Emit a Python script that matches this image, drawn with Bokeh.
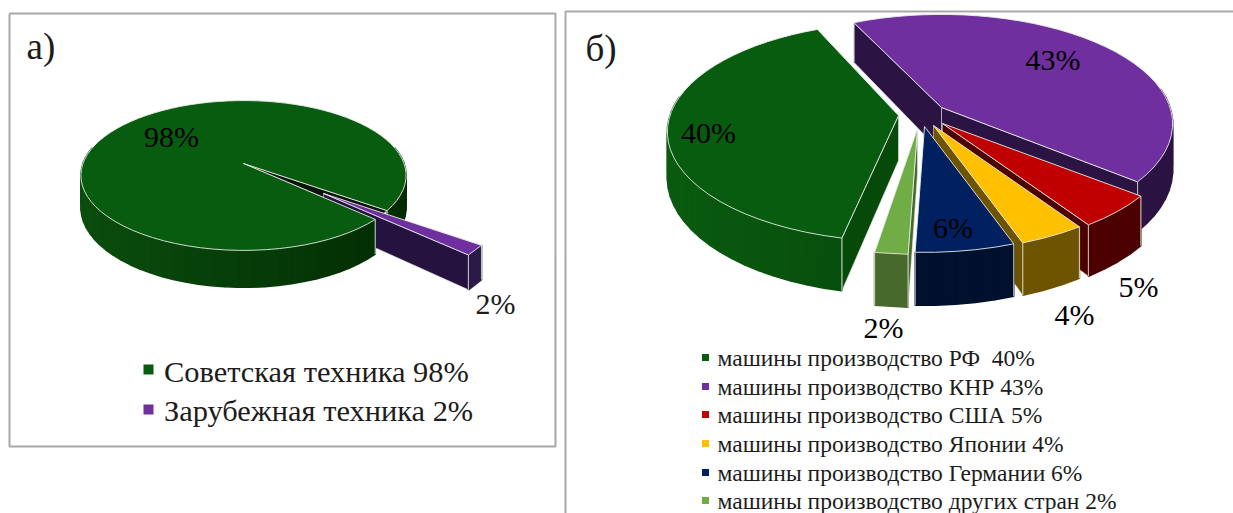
import math
from bokeh.models import ColumnDataSource
from bokeh.plotting import figure
from bokeh.core.properties import value
from bokeh.embed import file_html
from bokeh.resources import INLINE

# Fleet shares, percent
soviet_shares = [98, 2]
soviet_legend = ["Советская техника 98%", "Зарубежная техника 2%"]
origin_shares = [40, 43, 5, 4, 6, 2]
origin_legend = [
    "машины производство РФ\u00a0 40%",
    "машины производство КНР 43%",
    "машины производство США 5%",
    "машины производство Японии 4%",
    "машины производство Германии 6%",
    "машины производство других стран 2%",
]

FONT = value("Liberation Serif")
INK = "#1c1c1c"
EDGE = "#e6ece6"

p = figure(width=1233, height=513, x_range=(0, 1233), y_range=(513, 0),
           x_axis_type=None, y_axis_type=None, toolbar_location=None,
           output_backend="svg", min_border=0, outline_line_color=None,
           background_fill_color="white", border_fill_color="white")
p.grid.visible = False

polys = dict(xs=[], ys=[], fill=[], line=[], alpha=[], lw=[])


def add(xs, ys, fill, line=None, alpha=1.0, lw=1.6):
    polys["xs"].append(list(xs))
    polys["ys"].append(list(ys))
    polys["fill"].append(fill)
    polys["line"].append(line or fill)
    polys["alpha"].append(alpha if line else 1.0)
    polys["lw"].append(lw)


def mix(a, b, t):
    ca = [int(a[i:i + 2], 16) for i in (1, 3, 5)]
    cb = [int(b[i:i + 2], 16) for i in (1, 3, 5)]
    return "#%02x%02x%02x" % tuple(round(x + (y - x) * t) for x, y in zip(ca, cb))


class Tilted:
    """Perspective view of a flat disc; angles run clockwise from north, in degrees."""

    def __init__(self, rx, ry, k, depth):
        self.rx, self.ry, self.k, self.depth = rx, ry, k, depth

    def rim(self, apex, deg, r=1.0):
        t = math.radians(deg)
        u, v = math.sin(t), -math.cos(t)
        s = 1 / (1 - self.k * v)
        return (apex[0] + self.rx * u * s * r, apex[1] + self.ry * v * s * r, s)

    def drop(self, s):
        return self.depth * s

    def arc(self, apex, a0, a1, r=1.0):
        n = max(2, int(abs(a1 - a0) / 4) + 1)
        return [self.rim(apex, a0 + (a1 - a0) * i / (n - 1), r) for i in range(n)]

    def top(self, apex, a0, a1, color, r=1.0):
        pts = self.arc(apex, a0, a1, r)
        add([apex[0]] + [q[0] for q in pts], [apex[1]] + [q[1] for q in pts],
            color, EDGE, 0.9, 1.0)

    def wall(self, apex, a0, a1, left, right, r=1.0):
        """Outer rim band, shaded from left to right across the disc."""
        pts = self.arc(apex, a0, a1, r)
        for q0, q1 in zip(pts, pts[1:]):
            if (q0[1] + q1[1]) / 2 < apex[1] - 0.2 * self.ry:
                continue
            mid = ((q0[0] + q1[0]) / 2 - apex[0]) / (self.rx * 1.1 * r)
            c = mix(left, right, max(0, min(1, (mid + 1) / 2)))
            add([q0[0], q1[0], q1[0], q0[0]],
                [q0[1], q1[1], q1[1] + self.drop(q1[2]), q0[1] + self.drop(q0[2])], c)
        # bottom outline is left soft; only the closing verticals are lit
        for q in (pts[0], pts[-1]):
            add([q[0], q[0]], [q[1], q[1] + self.drop(q[2])], EDGE, EDGE, 0.7, 0.8)

    def face(self, apex, deg, color, r=1.0):
        """Straight cut face running from the apex to the rim."""
        q = self.rim(apex, deg, r)
        add([apex[0], q[0], q[0], apex[0]],
            [apex[1], q[1], q[1] + self.drop(q[2]), apex[1] + self.depth],
            color, EDGE, 0.7, 0.8)


def facing_viewer(deg, side):
    # side is -1 for the leading cut of a slice, +1 for the trailing one
    return -math.cos(math.radians(deg + side * 90)) > 0


# Left pie: domestic machinery against a pulled-out foreign sliver
GREEN, PURPLE = "#075c10", "#6f2f9f"
pie_a = Tilted(160.5, 73, 0.16, 31)
centre_a = (243, 163)
sliver_apex = (323, 193)
start_a = 133
soviet_end = start_a + soviet_shares[0] * 3.6
sliver_end = soviet_end + soviet_shares[1] * 3.6

# rim of the large slice behind the sliver
pie_a.wall(centre_a, 0, soviet_end - 360, "#0b4f0e", "#022a03")
q0, q1 = pie_a.rim(centre_a, soviet_end - 360), pie_a.rim(centre_a, start_a)
add([centre_a[0], q0[0], q1[0]], [centre_a[1], q0[1], q1[1]], "#0a140a", "#9aa39a", 0.9, 0.8)
# the sliver
pie_a.face(sliver_apex, sliver_end, "#26123f", 1.1)
pie_a.wall(sliver_apex, soviet_end, sliver_end, "#26123f", "#2c1a48", 1.1)
# near rim and top of the large slice
pie_a.wall(centre_a, start_a, 360, "#0b4f0e", "#022a03")
pie_a.top(centre_a, start_a, soviet_end, GREEN)
pie_a.top(sliver_apex, soviet_end, sliver_end, PURPLE, 1.1)

# Right pie: machinery by country of origin
ORIGIN_TOP = ["#075c10", "#6f2f9f", "#c00000", "#ffc000", "#002060", "#70ad47"]
ORIGIN_CUT = ["#064a0a", "#2b1344", "#4c0000", "#6e5400", "#000f2e", "#47692c"]
ORIGIN_RIM_L = ["#0a5c10", "#2b1344", "#4c0000", "#6e5400", "#000f2e", "#47692c"]
ORIGIN_RIM_R = ["#033a05", "#2b1344", "#4c0000", "#6e5400", "#00102c", "#47692c"]
apexes = [(898, 115), (941, 107), (942, 123), (933, 125), (924, 126), (917, 128)]
turn = [3, 1, 0, 0, 0, 0]
pie_b = Tilted(228.5, 107, 0.15, 45)
start_b = 189.2

edges = [start_b]
for share in origin_shares:
    edges.append(edges[-1] + share * 3.6)

for i, share in enumerate(origin_shares):
    a0, a1 = edges[i] + turn[i], edges[i + 1] + turn[i]
    for deg, side in ((a0, -1), (a1, 1)):
        if facing_viewer(deg, side):
            pie_b.face(apexes[i], deg, ORIGIN_CUT[i])
    pie_b.wall(apexes[i], a0, a1, ORIGIN_RIM_L[i], ORIGIN_RIM_R[i])
    pie_b.top(apexes[i], a0, a1, ORIGIN_TOP[i])

p.patches("xs", "ys", source=ColumnDataSource(polys), fill_color="fill",
          line_color="line", line_alpha="alpha", line_width="lw")

# Panel frames
p.line([9, 555, 555, 9, 9], [13, 13, 446, 446, 13], line_color="#a8a8a8", line_width=2)
p.line([565, 565, 1233], [513, 11, 11], line_color="#a8a8a8", line_width=2)

# Panel letters
p.text([26, 585], [46, 48], text=["а)", "б)"], text_font=FONT, text_font_size="37px",
       text_color=INK, text_baseline="middle", text_align="left")

# Slice labels
pct = [f"{v}%" for v in soviet_shares]
p.text([171], [136], text=pct[:1], text_font=FONT, text_font_size="30px",
       text_color="#000000", text_baseline="middle", text_align="center")
p.text([495], [303], text=pct[1:], text_font=FONT, text_font_size="30px",
       text_color=INK, text_baseline="middle", text_align="center")
pct = [f"{v}%" for v in origin_shares]
p.text([708, 1052.5, 1138, 1074, 952.5, 883], [132, 59, 286, 314, 227, 327], text=pct,
       text_font=FONT, text_font_size="30px", text_color="#000000",
       text_baseline="middle", text_align="center")

# Legends
p.scatter([148, 148], [369, 409], marker="square", size=10, line_width=0,
          color=[GREEN, PURPLE])
p.text([163.5, 163.5], [371, 410], text=soviet_legend, text_font=FONT,
       text_font_size="30.4px", text_color=INK, text_baseline="middle")
rows = [357, 386, 414, 443, 472, 500]
p.scatter([705] * 6, [r for r in rows], marker="square", size=7, line_width=0,
          color=ORIGIN_TOP)
p.text([717] * 6, rows, text=origin_legend, text_font=FONT, text_font_size="23.5px",
       text_color=INK, text_baseline="middle")

open("out.html", "w").write(file_html(p, INLINE))
